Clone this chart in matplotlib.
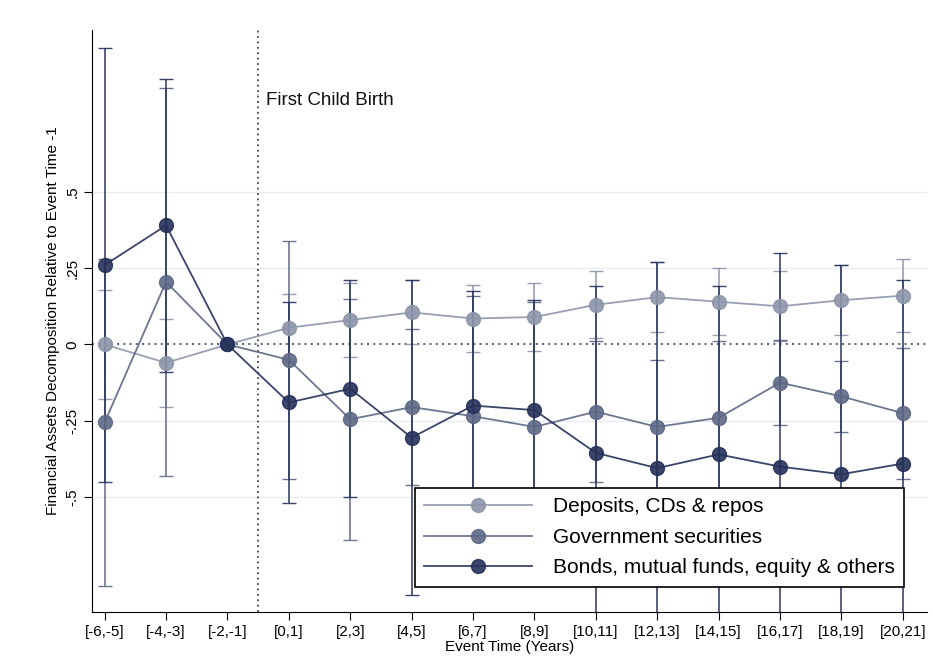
import matplotlib
matplotlib.use("Agg")
import matplotlib.pyplot as plt
from matplotlib.lines import Line2D
import numpy as np

plt.rcParams['font.family'] = ['Liberation Sans', 'DejaVu Sans']

categories = ["[-6,-5]","[-4,-3]","[-2,-1]","[0,1]","[2,3]","[4,5]","[6,7]","[8,9]",
              "[10,11]","[12,13]","[14,15]","[16,17]","[18,19]","[20,21]"]
deposits = [0.0,-0.06,0,0.055,0.08,0.105,0.085,0.09,0.13,0.155,0.14,0.125,0.145,0.16]
deposits_hw = [0.18,0.145,0,0.11,0.12,0.105,0.11,0.11,0.11,0.115,0.11,0.115,0.115,0.12]
govt = [-0.255,0.205,0,-0.05,-0.245,-0.205,-0.235,-0.27,-0.22,-0.27,-0.24,-0.125,-0.17,-0.225]
govt_hw = [0.535,0.635,0,0.39,0.395,0.255,0.395,0.41,0.23,0.22,0.25,0.14,0.115,0.215]
bonds = [0.26,0.39,0,-0.19,-0.145,-0.305,-0.2,-0.215,-0.355,-0.405,-0.36,-0.4,-0.425,-0.39]
bonds_hw = [0.71,0.48,0,0.33,0.355,0.515,0.375,0.36,0.545,0.675,0.55,0.70,0.685,0.6]

series = [("Deposits, CDs & repos", deposits, deposits_hw, "#8d95aa"),
          ("Government securities", govt, govt_hw, "#5e6886"),
          ("Bonds, mutual funds, equity & others", bonds, bonds_hw, "#26315a")]

fig = plt.figure(figsize=(9.33,6.67), dpi=100)
ax = fig.add_axes([0.099, 0.083, 0.895, 0.872])
x = np.arange(len(categories))
handles = []
for lab, v, hw, c in series:
    ax.errorbar(x, v, yerr=hw, color=c, ecolor=c, lw=1.3, elinewidth=1.2, capsize=5,
                marker="o", ms=10, mfc=c, mec=c, alpha=0.9, zorder=3)
    handles.append(Line2D([], [], color=c, lw=1.3, marker="o", ms=10, alpha=0.9, label=lab))
for g in [-0.5,-0.25,0.25,0.5]:
    ax.axhline(g, color="#e8ecf0", lw=1, zorder=0)
ax.axhline(0, color="#5e6886", lw=1.5, ls=(0,(1,2)), zorder=1)
ax.axvline(2.5, color="#444444", lw=1.3, ls=(0,(1,2)), zorder=1)
ax.text(2.62, 0.8, "First Child Birth", fontsize=13.5, va="center", color="#111111")
ax.set_xlim(-0.2, 13.4)
ax.set_ylim(-0.875, 1.03)
ax.set_xticks(x)
ax.set_xticklabels(categories, fontsize=11)
ax.set_yticks([-0.5,-0.25,0,0.25,0.5])
ax.set_yticklabels(["-.5","-.25","0",".25",".5"], rotation=90, va="center", fontsize=11)
for s in ["top","right"]:
    ax.spines[s].set_visible(False)
ax.tick_params(length=6)
ax.set_xlabel("Event Time (Years)", fontsize=11, labelpad=1)
ax.set_ylabel("Financial Assets Decomposition Relative to Event Time -1", fontsize=11)
leg = ax.legend(handles=handles, loc="lower right", bbox_to_anchor=(0.985, 0.025), fontsize=15,
                frameon=True, fancybox=False, edgecolor="black", framealpha=1,
                handlelength=5.2, borderpad=0.45, labelspacing=0.55, handletextpad=1.0)
leg.get_frame().set_linewidth(1.2)
leg.set_zorder(10)
fig.savefig("out.png", dpi=100, facecolor="white")
